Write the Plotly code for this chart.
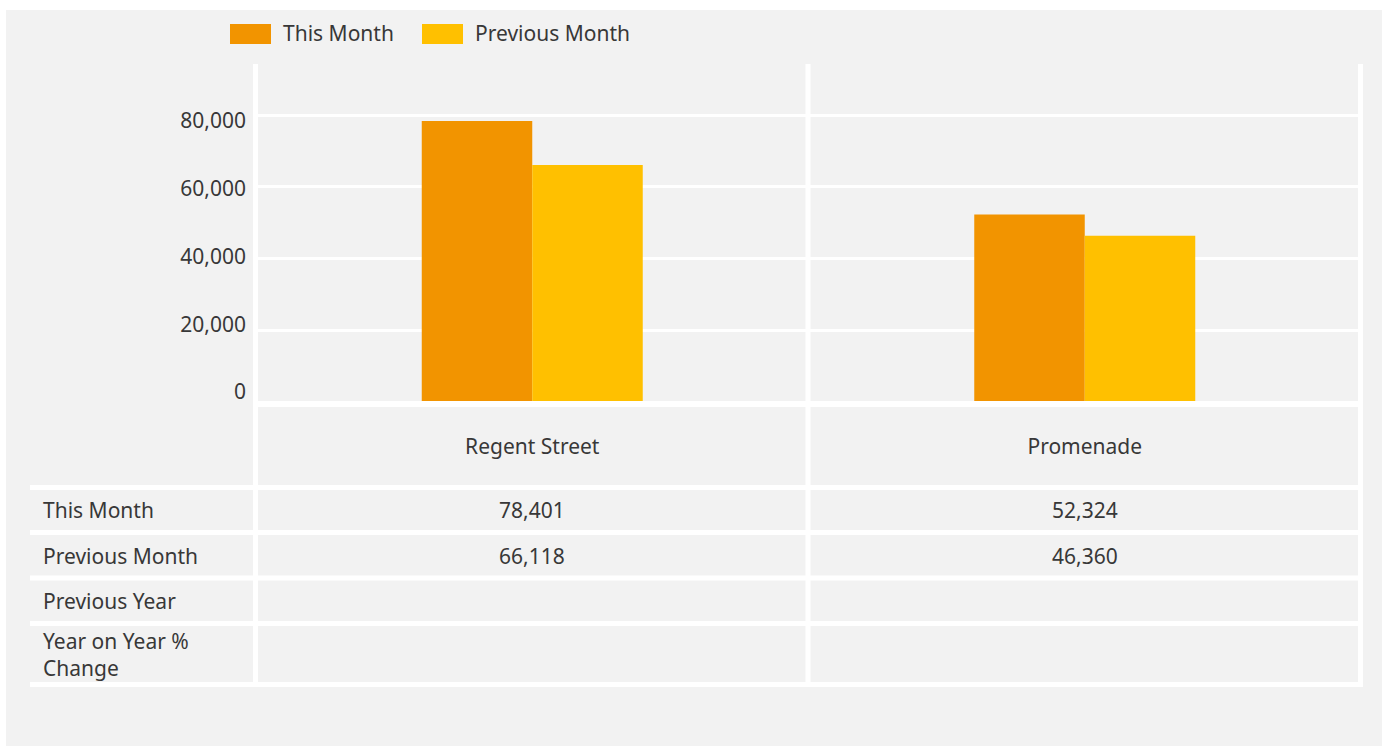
import plotly.graph_objects as go

# ---------------- data ----------------
categories = ["Regent Street", "Promenade"]
this_month = [78401, 52324]
previous_month = [66118, 46360]
previous_year = [None, None]
yoy_change = [None, None]
series_names = ["This Month", "Previous Month"]
row_labels = ["This Month", "Previous Month", "Previous Year", "Year on Year %<br>Change"]
y_ticks = [0, 20000, 40000, 60000, 80000]
y_tick_labels = ["0", "20,000", "40,000", "60,000", "80,000"]

# ---------------- styles ----------------
W, H = 1386, 746          # layout grid (reference pixels)
FIG_H = 759               # rendered height (the capture compresses vertically)
ORANGE = "#F29400"
YELLOW = "#FFC000"
PANEL = "#F2F2F2"
TEXT = "#383838"
FONT = "Noto Sans"
FS = 21


def px(x):
    return x / W


def py(y):
    return 1 - y / H


fig = go.Figure()
fig.add_trace(go.Bar(x=categories, y=this_month, name=series_names[0],
                     marker=dict(color=ORANGE, line=dict(width=0)),
                     hoverinfo="skip", showlegend=False))
fig.add_trace(go.Bar(x=categories, y=previous_month, name=series_names[1],
                     marker=dict(color=YELLOW, line=dict(width=0)),
                     hoverinfo="skip", showlegend=False))
# invisible trace carrying the tick-label axis
fig.add_trace(go.Scatter(x=categories, y=this_month, yaxis="y2", mode="markers",
                         marker=dict(opacity=0), hoverinfo="skip", showlegend=False))

shapes = []
# gray panel
shapes.append(dict(type="rect", xref="paper", yref="paper", x0=px(6), x1=px(1382),
                   y0=py(746), y1=py(10), fillcolor=PANEL, line=dict(width=0), layer="below"))

def hline(y, x0, x1, w=5):
    shapes.append(dict(type="line", xref="paper", yref="paper", x0=px(x0), x1=px(x1),
                       y0=py(y), y1=py(y), line=dict(color="white", width=w), layer="above"))

def vline(x, y0, y1, w=5):
    shapes.append(dict(type="line", xref="paper", yref="paper", x0=px(x), x1=px(x),
                       y0=py(y0), y1=py(y1), line=dict(color="white", width=w), layer="above"))

hline(404, 253, 1363, 6)
for yy in [487.5, 532.5, 578, 623.5, 684.5]:
    hline(yy, 30, 1363, 5)
for xx in [255.5, 808, 1360.5]:
    vline(xx, 64, 687, 5)

annotations = []
# legend
leg = [(230, 281, series_names[0], ORANGE), (422, 473, series_names[1], YELLOW)]
for sx, tx, name, col in leg:
    shapes.append(dict(type="rect", xref="paper", yref="paper", x0=px(sx), x1=px(sx + 41),
                       y0=py(44), y1=py(24), fillcolor=col, line=dict(width=0)))
    annotations.append(dict(xref="paper", yref="paper", x=px(tx), y=py(33), text=name,
                            showarrow=False, xanchor="left", yanchor="middle",
                            font=dict(family=FONT, size=FS, color=TEXT)))

# table row labels
row_y = [510, 556, 601, 654]
for lab, yy in zip(row_labels, row_y):
    annotations.append(dict(xref="paper", yref="paper", x=px(41), y=py(yy), text=lab,
                            showarrow=False, xanchor="left", yanchor="middle", align="left",
                            font=dict(family=FONT, size=FS, color=TEXT)))

def fmt(v):
    return "" if v is None else f"{v:,}"

for row, yy in zip([this_month, previous_month, previous_year, yoy_change], row_y):
    for cat, v in zip(categories, row):
        annotations.append(dict(xref="x", yref="paper", x=cat, y=py(yy), text=fmt(v),
                                showarrow=False, xanchor="center", yanchor="middle",
                                font=dict(family=FONT, size=FS, color=TEXT)))

fig.update_layout(
    width=W, height=FIG_H, autosize=False,
    margin=dict(l=0, r=0, t=0, b=0),
    paper_bgcolor="white",
    plot_bgcolor="rgba(0,0,0,0)",
    barmode="group", bargap=0.6, bargroupgap=0,
    font=dict(family=FONT, size=FS, color=TEXT),
    xaxis=dict(domain=[px(256), px(1361)], showgrid=False, showline=False, zeroline=False,
               ticks="", ticklabelstandoff=30, tickfont=dict(family=FONT, size=FS, color=TEXT),
               fixedrange=True),
    yaxis=dict(domain=[py(402), py(64)], range=[0, 94300], tickvals=y_ticks,
               showticklabels=False, showgrid=True, gridcolor="white", gridwidth=3,
               zeroline=False, showline=False, ticks="", fixedrange=True),
    yaxis2=dict(domain=[py(392), py(64)], range=[0, 96826], anchor="x",
                tickvals=y_ticks, ticktext=y_tick_labels, showgrid=False, zeroline=False,
                showline=False, ticks="", ticklabelstandoff=9,
                tickfont=dict(family=FONT, size=FS, color=TEXT), fixedrange=True),
    shapes=shapes,
    annotations=annotations,
    showlegend=False,
)

POST = """
document.documentElement.style.margin='0';
document.documentElement.style.overflow='hidden';
document.body.style.margin='0';
document.body.style.overflow='hidden';
var g = document.getElementById('{plot_id}');
g.style.position='fixed'; g.style.left='0px'; g.style.top='0px';
"""

fig.write_html(
    "out.html",
    config={"displayModeBar": False, "responsive": False},
    post_script=POST,
)
